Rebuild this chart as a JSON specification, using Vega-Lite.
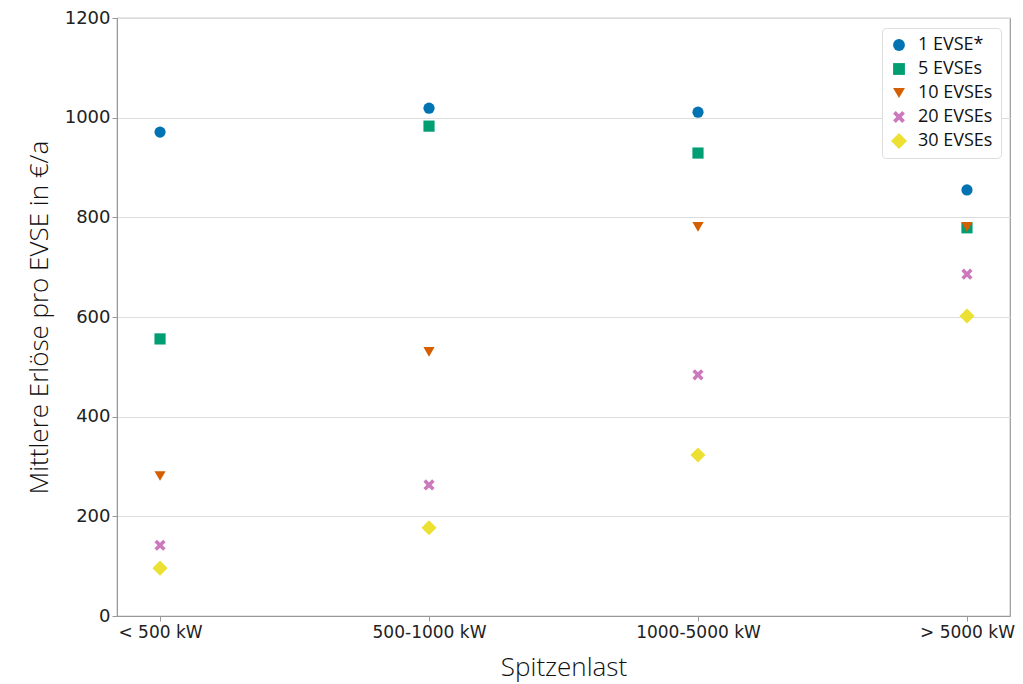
{
  "$schema": "https://vega.github.io/schema/vega-lite/v6.json",
  "width": 893,
  "height": 598,
  "autosize": {"type": "none"},
  "padding": {"left": 117, "top": 18, "right": 13, "bottom": 68},
  "background": "white",
  "config": {
    "view": {"stroke": "#999999", "strokeWidth": 1.2}
  },
  "data": {
    "values": [
      {"last": "< 500 kW", "anzahl": "1 EVSE*", "erloes": 971},
      {"last": "< 500 kW", "anzahl": "5 EVSEs", "erloes": 556},
      {"last": "< 500 kW", "anzahl": "10 EVSEs", "erloes": 281},
      {"last": "< 500 kW", "anzahl": "20 EVSEs", "erloes": 142},
      {"last": "< 500 kW", "anzahl": "30 EVSEs", "erloes": 96},
      {"last": "500-1000 kW", "anzahl": "1 EVSE*", "erloes": 1019},
      {"last": "500-1000 kW", "anzahl": "5 EVSEs", "erloes": 983},
      {"last": "500-1000 kW", "anzahl": "10 EVSEs", "erloes": 530},
      {"last": "500-1000 kW", "anzahl": "20 EVSEs", "erloes": 263},
      {"last": "500-1000 kW", "anzahl": "30 EVSEs", "erloes": 177},
      {"last": "1000-5000 kW", "anzahl": "1 EVSE*", "erloes": 1011},
      {"last": "1000-5000 kW", "anzahl": "5 EVSEs", "erloes": 929},
      {"last": "1000-5000 kW", "anzahl": "10 EVSEs", "erloes": 781},
      {"last": "1000-5000 kW", "anzahl": "20 EVSEs", "erloes": 484},
      {"last": "1000-5000 kW", "anzahl": "30 EVSEs", "erloes": 323},
      {"last": "> 5000 kW", "anzahl": "1 EVSE*", "erloes": 855},
      {"last": "> 5000 kW", "anzahl": "5 EVSEs", "erloes": 779},
      {"last": "> 5000 kW", "anzahl": "10 EVSEs", "erloes": 781},
      {"last": "> 5000 kW", "anzahl": "20 EVSEs", "erloes": 686},
      {"last": "> 5000 kW", "anzahl": "30 EVSEs", "erloes": 602}
    ]
  },
  "mark": {"type": "point", "filled": true, "opacity": 1, "size": 125},
  "encoding": {
    "x": {
      "field": "last",
      "type": "ordinal",
      "sort": ["< 500 kW", "500-1000 kW", "1000-5000 kW", "> 5000 kW"],
      "scale": {"type": "point", "padding": 0.16},
      "axis": {
        "title": "Spitzenlast", "labelAngle": 0, "grid": false,
        "titlePadding": 14, "labelPadding": 3,
        "labelFont": "DejaVu Sans", "labelFontSize": 17, "labelColor": "#222222",
        "titleFont": "Open Sans", "titleFontWeight": 300, "titleFontSize": 26, "titleColor": "#111111",
        "domainColor": "#999999", "tickColor": "#999999"
      }
    },
    "y": {
      "field": "erloes",
      "type": "quantitative",
      "scale": {"domain": [0, 1200]},
      "axis": {
        "title": "Mittlere Erlöse pro EVSE in €/a", "format": "d",
        "values": [0, 200, 400, 600, 800, 1000, 1200], "titlePadding": 12,
        "labelFont": "DejaVu Sans", "labelFontSize": 18, "labelColor": "#222222",
        "titleFont": "Open Sans", "titleFontWeight": 300, "titleFontSize": 26, "titleColor": "#111111",
        "domainColor": "#999999", "tickColor": "#999999", "gridColor": "#dddddd"
      }
    },
    "color": {
      "field": "anzahl",
      "type": "nominal",
      "sort": ["1 EVSE*", "5 EVSEs", "10 EVSEs", "20 EVSEs", "30 EVSEs"],
      "scale": {
        "domain": ["1 EVSE*", "5 EVSEs", "10 EVSEs", "20 EVSEs", "30 EVSEs"],
        "range": ["#0173b2", "#029e73", "#d55e00", "#cc78bc", "#ece133"]
      },
      "legend": {
        "title": null,
        "orient": "none",
        "legendX": 765,
        "legendY": 10,
        "labelFont": "Open Sans",
        "labelFontSize": 18,
        "labelColor": "#111111",
        "labelOffset": 10,
        "symbolSize": 140,
        "rowPadding": 6,
        "padding": 8,
        "fillColor": "white",
        "strokeColor": "#dddddd",
        "cornerRadius": 4
      }
    },
    "shape": {
      "field": "anzahl",
      "type": "nominal",
      "sort": ["1 EVSE*", "5 EVSEs", "10 EVSEs", "20 EVSEs", "30 EVSEs"],
      "scale": {
        "domain": ["1 EVSE*", "5 EVSEs", "10 EVSEs", "20 EVSEs", "30 EVSEs"],
        "range": ["circle", "square", "triangle-down", "M-1,-0.55L-0.55,-1L0,-0.45L0.55,-1L1,-0.55L0.45,0L1,0.55L0.55,1L0,0.45L-0.55,1L-1,0.55L-0.45,0Z", "M0,-1.35L1.35,0L0,1.35L-1.35,0Z"]
      },
      "legend": null
    }
  }
}
